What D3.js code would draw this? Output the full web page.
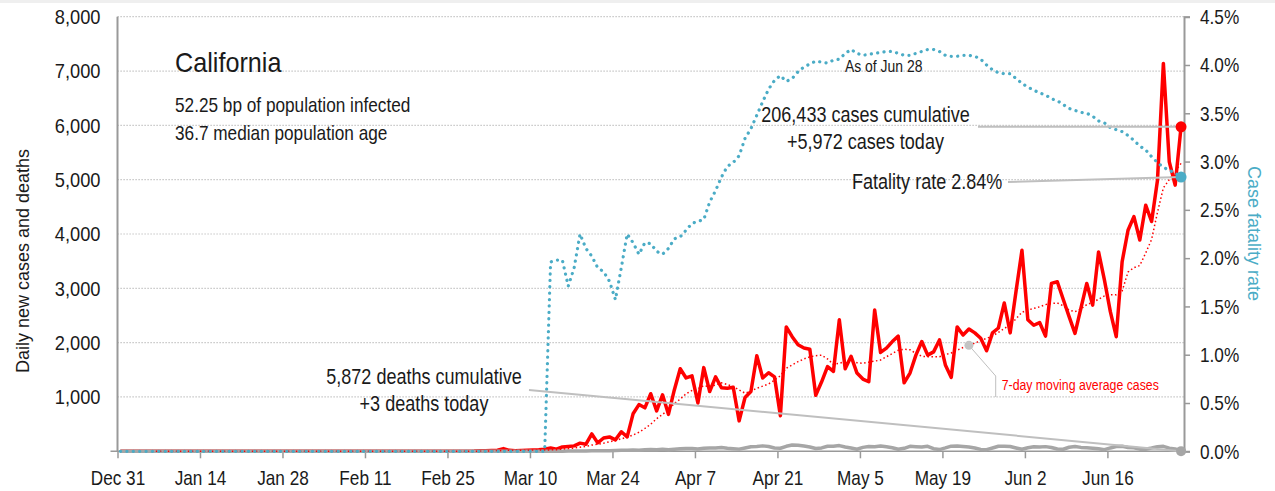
<!DOCTYPE html>
<html>
<head>
<meta charset="utf-8">
<script src="https://cdn.jsdelivr.net/npm/d3@7"></script>
<style>
body { margin: 0; background: #fff; }
svg text { font-family: "Liberation Sans", Arial, sans-serif; fill: #1a1a1a; }
</style>
</head>
<body>
<div id="graphic"></div>
<script>
// =========================================
// California daily cases, deaths & case fatality rate (to Jun 28)
// =========================================

// day 0 = Dec 31, one value per day
var startDay = Date.UTC(2019, 11, 31);

var dailyCases = [
	0,0,0,0,0,0,0,0,0,0,
	0,0,0,0,0,0,0,0,0,0,
	0,0,0,0,0,1,1,0,0,1,
	0,0,1,0,0,0,0,0,0,0,
	1,0,0,1,0,0,0,0,0,0,
	0,0,0,0,0,1,3,2,1,3,
	6,12,8,15,20,50,18,10,15,20,
	25,30,40,60,40,80,90,100,150,130,
	320,155,245,265,210,360,265,690,860,800,
	1060,745,1040,680,1130,1520,1350,1390,890,1540,
	1100,1370,1170,1160,1180,560,990,1100,1760,1350,
	1445,1370,655,2290,2110,1960,1900,1880,1030,1280,
	1560,1470,2420,1520,1750,1440,1330,1280,2600,1820,
	1900,2020,2120,1260,1440,1770,2020,1770,1830,2050,
	1590,1360,2290,2140,2250,2180,2080,1850,2180,2270,
	2730,2180,2950,3700,2420,2320,2370,2120,3090,3120,
	2800,2480,2170,2630,3090,2690,3670,3150,2570,2110,
	3490,4070,4320,3890,4530,4230,4990,7140,5330,4900,5972
];

var dailyDeaths = [
	0,0,0,0,0,0,0,0,0,0,
	0,0,0,0,0,0,0,0,0,0,
	0,0,0,0,0,0,0,0,0,0,
	0,0,0,0,0,0,0,0,0,0,
	0,0,0,0,0,0,0,0,0,0,
	0,0,0,0,0,0,0,0,0,0,
	0,0,0,0,1,0,1,2,1,1,
	2,1,3,2,4,3,5,6,7,5,
	8,10,12,8,16,20,18,24,19,28,
	35,30,40,27,38,45,52,50,43,58,
	62,60,70,55,48,40,62,85,90,100,
	88,62,56,92,115,110,96,78,52,62,
	92,95,105,80,60,38,72,88,84,98,
	82,65,38,55,92,85,78,92,48,32,
	62,95,98,88,78,60,35,30,60,92,
	95,88,62,38,65,82,78,86,70,42,
	38,75,90,72,66,58,45,30,62,88,
	92,70,66,40,38,60,85,92,58,42,3
];

// 7-day moving average of cases, starts on day 6
var maStart = 6;
var movingAvg = [
	0,0,0,0,
	0,0,0,0,0,0,0,0,0,0,
	0,0,0,0,0,0,0,0,0,0,
	0,0,0,0,0,0,0,0,0,0,
	0,0,0,0,0,0,0,0,0,0,
	0,0,0,0,0,0,1,1,1,1,
	2,3,5,6,9,16,18,19,21,21,
	22,24,23,27,30,40,50,60,75,90,
	115,130,150,175,200,230,260,300,350,420,
	500,600,680,760,880,960,1060,1120,1150,1210,
	1190,1220,1260,1230,1190,1130,1070,1110,1160,1200,
	1240,1310,1390,1530,1590,1650,1700,1740,1760,1770,
	1700,1600,1620,1650,1650,1630,1620,1640,1660,1680,
	1740,1800,1860,1880,1870,1800,1750,1740,1740,1740,
	1780,1810,1860,1910,1950,1990,2040,2080,2120,2190,
	2260,2330,2440,2560,2600,2630,2660,2700,2720,2730,
	2680,2600,2570,2620,2700,2740,2800,2860,2880,2880,
	2950,3300,3380,3420,3650,3900,4400,4850,5000,5150,5300
];

// case fatality rate, percent
var fatalityRate = [
	0,0,0,0,0,0,0,0,0,0,
	0,0,0,0,0,0,0,0,0,0,
	0,0,0,0,0,0,0,0,0,0,
	0,0,0,0,0,0,0,0,0,0,
	0,0,0,0,0,0,0,0,0,0,
	0,0,0,0,0,0,0,0,0,0,
	0,0,0,0,0,0,0,0,0,0,
	0,0,0,1.96,1.98,1.98,1.71,1.9,2.25,2.1,
	2.02,1.9,1.86,1.76,1.57,1.9,2.25,2.16,2.04,2.16,
	2.15,2.07,2.04,2.1,2.2,2.22,2.29,2.36,2.38,2.4,
	2.58,2.7,2.84,2.95,2.99,3.06,3.24,3.34,3.48,3.62,
	3.75,3.84,3.89,3.83,3.86,3.93,3.98,4.01,4.04,4.03,
	4.02,4.05,4.06,4.12,4.16,4.12,4.1,4.11,4.12,4.13,
	4.14,4.14,4.12,4.1,4.1,4.12,4.14,4.16,4.16,4.14,
	4.1,4.09,4.09,4.1,4.1,4.09,4.06,4.0,3.95,3.92,
	3.91,3.91,3.86,3.81,3.77,3.74,3.71,3.69,3.65,3.63,
	3.59,3.55,3.53,3.51,3.5,3.47,3.42,3.4,3.35,3.33,
	3.31,3.27,3.22,3.16,3.12,3.05,2.99,2.94,2.91,2.88,2.84
];

var tickDates = ['2019-12-31','2020-01-14','2020-01-28','2020-02-11','2020-02-25','2020-03-10',
	'2020-03-24','2020-04-07','2020-04-21','2020-05-05','2020-05-19','2020-06-02','2020-06-16'];
var leftTicks = [0, 1000, 2000, 3000, 4000, 5000, 6000, 7000, 8000];
var rightTicks = [0, 0.5, 1, 1.5, 2, 2.5, 3, 3.5, 4, 4.5];

var stateName = 'California';
var infoLines = ['52.25 bp of population infected', '36.7 median population age'];
var casesNote = ['206,433 cases cumulative', '+5,972 cases today'];
var deathsNote = ['5,872 deaths cumulative', '+3 deaths today'];
var fatalityNote = 'Fatality rate 2.84%';
var asOfNote = 'As of Jun 28';
var maNote = '7-day moving average cases';
var maMarkerDay = 144;


renderGraphic({
	container: 'graphic',
	width: 1275,
	height: 491
});


function renderGraphic(config) {

	var width = config.width,
		height = config.height;

	var red = '#ff0000',
		blue = '#4bacc6',
		grey = '#a6a6a6',
		leaderGrey = '#bfbfbf',
		squeeze = 0.82;	// no condensed face installed, so squash the regular one

	var margins = {
		top: 16.7,
		right: 91,
		bottom: 39.7,
		left: 117.5
	};

	var chartWidth = width - (margins.left + margins.right);
	var chartHeight = height - (margins.top + margins.bottom);

	var containerElement = d3.select('#' + config.container);
	containerElement.html('');

	var svg = containerElement.append('svg')
		.attr('width', width)
		.attr('height', height);

	// thin grey band at the very top
	svg.append('rect')
		.attr('width', width).attr('height', 3)
		.attr('fill', '#efefef');

	var chartElement = svg.append('g')
		.attr('transform', 'translate(' + margins.left + ',' + margins.top + ')');

	var x = d3.scaleUtc()
		.domain([new Date(startDay), new Date(startDay + 181 * 864e5)])
		.range([0, chartWidth]);
	var y = d3.scaleLinear().domain([0, 8000]).range([chartHeight, 0]);
	var yR = d3.scaleLinear().domain([0, 4.5]).range([chartHeight, 0]);

	function dayDate(i) { return new Date(startDay + (i + 0.5) * 864e5); }

	// move x/y into a transform so the glyphs can be squeezed sideways
	function narrow(sel, k) {
		sel.each(function() {
			var t = d3.select(this),
				tx = +t.attr('x') || 0,
				ty = +t.attr('y') || 0;
			t.attr('transform', 'translate(' + tx + ',' + ty + ') scale(' + k + ',1)')
				.attr('x', 0).attr('y', 0);
		});
	}

	// 1. gridlines
	chartElement.append('g').attr('class', 'grid')
		.selectAll('line')
		.data(leftTicks.filter(function(d) { return d > 0; }))
		.enter().append('line')
		.attr('x1', 0).attr('x2', chartWidth)
		.attr('y1', function(d) { return y(d); })
		.attr('y2', function(d) { return y(d); })
		.attr('stroke', '#b8b8b8')
		.attr('stroke-width', 1.2)
		.attr('stroke-dasharray', '1.2,1.8');

	// 2. axes
	var yAxis = chartElement.append('g')
		.attr('class', 'axis axis-y')
		.call(d3.axisLeft(y)
			.tickValues(leftTicks)
			.tickSize(0)
			.tickPadding(17)
			.tickFormat(function(d) { return d === 0 ? '' : d3.format(',')(d); }));
	yAxis.select('.domain').remove();
	yAxis.selectAll('text').style('font-size', '21px').attr('fill', '#1a1a1a')
		.call(narrow, 0.87);

	var yAxisR = chartElement.append('g')
		.attr('class', 'axis axis-y2')
		.attr('transform', 'translate(' + chartWidth + ',0)')
		.call(d3.axisRight(yR)
			.tickValues(rightTicks)
			.tickSize(6)
			.tickPadding(10)
			.tickFormat(function(d) { return d.toFixed(1) + '%'; }));
	yAxisR.select('.domain').attr('stroke', '#999').attr('stroke-width', 2);
	yAxisR.selectAll('line').attr('stroke', '#999').attr('stroke-width', 1.5);
	yAxisR.selectAll('text').style('font-size', '21px').attr('fill', blue)
		.call(narrow, squeeze);

	var xAxis = chartElement.append('g')
		.attr('class', 'axis axis-x')
		.attr('transform', 'translate(0,' + chartHeight + ')')
		.call(d3.axisBottom(x)
			.tickValues(tickDates.map(function(d) { return new Date(d + 'T00:00:00Z'); }))
			.tickSize(7)
			.tickSizeOuter(0)
			.tickPadding(12)
			.tickFormat(d3.utcFormat('%b %-d')));
	xAxis.select('.domain').remove();
	xAxis.selectAll('line').attr('stroke', '#999').attr('stroke-width', 1.5);
	xAxis.selectAll('text').style('font-size', '20px').attr('fill', '#1a1a1a')
		.call(narrow, 0.86);

	// left axis + baseline
	chartElement.append('line')
		.attr('x1', 0).attr('x2', 0)
		.attr('y1', 0).attr('y2', chartHeight)
		.attr('stroke', '#999').attr('stroke-width', 2);
	chartElement.append('line')
		.attr('x1', -7).attr('x2', chartWidth)
		.attr('y1', chartHeight).attr('y2', chartHeight)
		.attr('stroke', '#999').attr('stroke-width', 1.5);

	// 3. series
	var lineL = d3.line()
		.x(function(d) { return x(d.date); })
		.y(function(d) { return y(d.value); });
	var lineR = d3.line()
		.x(function(d) { return x(d.date); })
		.y(function(d) { return yR(d.value); });

	function toPoints(arr, offset) {
		return arr.map(function(v, i) { return {date: dayDate(i + offset), value: v}; });
	}

	var casePts = toPoints(dailyCases, 0),
		deathPts = toPoints(dailyDeaths, 0),
		maPts = toPoints(movingAvg, maStart),
		cfrPts = toPoints(fatalityRate, 0);

	chartElement.append('path')
		.attr('d', lineL(casePts))
		.attr('fill', 'none')
		.attr('stroke', red)
		.attr('stroke-width', 3.5)
		.attr('stroke-linejoin', 'round');

	chartElement.append('path')
		.attr('d', lineL(deathPts))
		.attr('fill', 'none')
		.attr('stroke', grey)
		.attr('stroke-width', 3.5)
		.attr('stroke-linejoin', 'round');

	chartElement.append('path')
		.attr('d', lineL(maPts))
		.attr('fill', 'none')
		.attr('stroke', red)
		.attr('stroke-width', 1.5)
		.attr('stroke-dasharray', '1.5,2.5');

	chartElement.append('path')
		.attr('d', lineR(cfrPts))
		.attr('fill', 'none')
		.attr('stroke', blue)
		.attr('stroke-width', 3.2)
		.attr('stroke-linecap', 'round')
		.attr('stroke-dasharray', '0.1,6.3');

	// 4. annotations (absolute page coords)
	var ann = svg.append('g').attr('class', 'annotations');
	var ox = margins.left, oy = margins.top;
	var lastDay = dailyCases.length - 1;
	var endX = ox + x(dayDate(lastDay));

	ann.append('text')
		.attr('x', 175).attr('y', 72)
		.style('font-size', '28px')
		.text(stateName)
		.call(narrow, 0.9);
	ann.selectAll('text.info')
		.data(infoLines).enter()
		.append('text').attr('class', 'info')
		.attr('x', 175)
		.attr('y', function(d, i) { return 111.5 + i * 28.5; })
		.style('font-size', '21px')
		.text(function(d) { return d; })
		.call(narrow, squeeze);

	ann.append('text')
		.attr('x', 845).attr('y', 72)
		.style('font-size', '17px')
		.text(asOfNote)
		.call(narrow, squeeze);

	// leader lines
	var caseY = oy + y(dailyCases[lastDay]);
	ann.append('line')
		.attr('x1', 978).attr('x2', endX)
		.attr('y1', caseY).attr('y2', caseY)
		.attr('stroke', leaderGrey).attr('stroke-width', 2);

	var cfrY = oy + yR(fatalityRate[lastDay]);
	ann.append('line')
		.attr('x1', 1008).attr('y1', 182)
		.attr('x2', endX).attr('y2', cfrY)
		.attr('stroke', leaderGrey).attr('stroke-width', 2);

	var deathY = oy + y(dailyDeaths[lastDay]);
	ann.append('line')
		.attr('x1', 529).attr('y1', 390)
		.attr('x2', endX).attr('y2', deathY)
		.attr('stroke', leaderGrey).attr('stroke-width', 2);

	var maX = ox + x(dayDate(maMarkerDay)),
		maY = oy + y(movingAvg[maMarkerDay - maStart]);
	ann.append('polyline')
		.attr('points', [[995.7, 397], [995.7, 376], [maX, maY]].join(' '))
		.attr('fill', 'none')
		.attr('stroke', leaderGrey).attr('stroke-width', 1);
	ann.append('circle')
		.attr('cx', maX).attr('cy', maY).attr('r', 4.5)
		.attr('fill', '#c4c4c4');

	ann.selectAll('text.cases')
		.data(casesNote).enter()
		.append('text').attr('class', 'cases')
		.attr('x', 865.5)
		.attr('y', function(d, i) { return 122 + i * 26.5; })
		.attr('text-anchor', 'middle')
		.style('font-size', '22px')
		.text(function(d) { return d; })
		.call(narrow, squeeze);

	ann.append('text')
		.attr('x', 852).attr('y', 188.5)
		.style('font-size', '22px')
		.text(fatalityNote)
		.call(narrow, squeeze);

	ann.selectAll('text.deaths')
		.data(deathsNote).enter()
		.append('text').attr('class', 'deaths')
		.attr('x', 424)
		.attr('y', function(d, i) { return 384 + i * 27; })
		.attr('text-anchor', 'middle')
		.style('font-size', '22px')
		.text(function(d) { return d; })
		.call(narrow, squeeze);

	ann.append('text')
		.attr('x', 1001.7).attr('y', 390)
		.style('font-size', '15px')
		.style('fill', red)
		.text(maNote)
		.call(narrow, squeeze);

	// end dots
	ann.append('circle')
		.attr('cx', endX).attr('cy', deathY).attr('r', 5)
		.attr('fill', grey);
	ann.append('circle')
		.attr('cx', endX).attr('cy', caseY).attr('r', 5.5)
		.attr('fill', red);
	ann.append('circle')
		.attr('cx', endX).attr('cy', cfrY).attr('r', 5.5)
		.attr('fill', blue);

	// axis titles
	svg.append('text')
		.attr('transform', 'translate(28.5,261) rotate(-90)')
		.attr('text-anchor', 'middle')
		.style('font-size', '18px')
		.text('Daily new cases and deaths');
	svg.append('text')
		.attr('transform', 'translate(1248,233.5) rotate(90)')
		.attr('text-anchor', 'middle')
		.style('font-size', '18px')
		.style('fill', blue)
		.text('Case fatality rate');

} // end of renderGraphic()
</script>
</body>
</html>
